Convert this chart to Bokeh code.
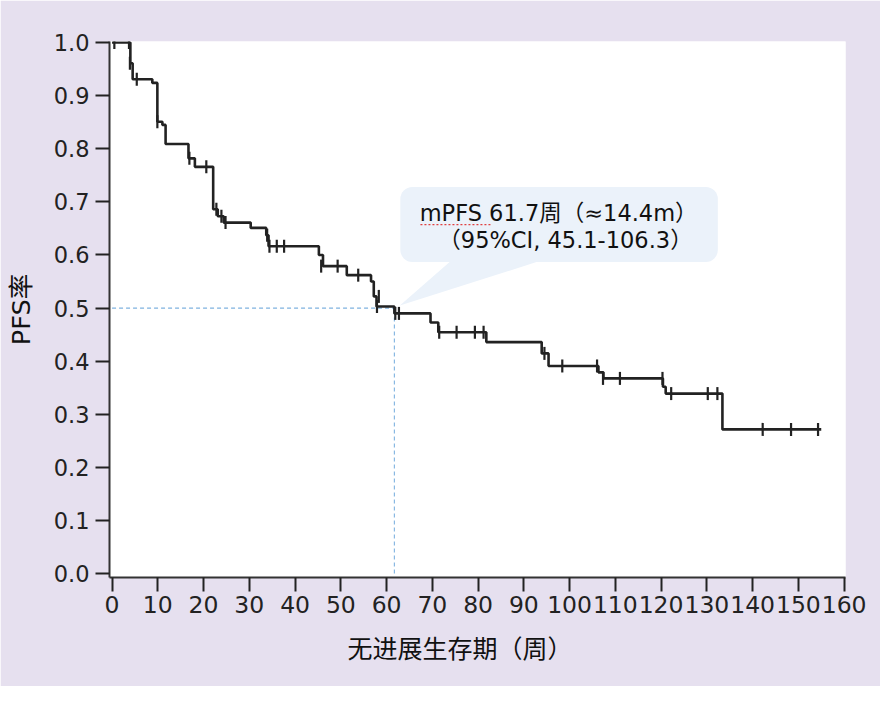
import numpy as np
from bokeh.plotting import figure
from bokeh.models import Label, FixedTicker, Range1d, PrintfTickFormatter, Title
from bokeh.embed import file_html
from bokeh.resources import INLINE

# ---- data ----
event_times = [0.0, 4.0, 4.5, 8.8, 9.9, 11.0, 11.7, 16.7, 18.1, 22.1, 23.1, 24.4, 30.3,
               33.7, 34.2, 45.2, 46.1, 51.3, 56.6, 57.2, 57.8, 61.7, 69.6, 71.3, 81.8,
               93.9, 95.4, 106.3, 107.4, 120.4, 121.0, 133.4, 155.0]
survival = [1.0, 0.961, 0.931, 0.924, 0.851, 0.845, 0.809, 0.782, 0.766, 0.686, 0.673, 0.661, 0.651,
            0.637, 0.6165, 0.600, 0.579, 0.562, 0.550, 0.522, 0.503, 0.490, 0.473, 0.4545, 0.436,
            0.4147, 0.391, 0.379, 0.3676, 0.352, 0.339, 0.2716, 0.2716]
censor_times = [0.5, 3.7, 3.9, 5.4, 9.9, 16.9, 20.6, 22.8, 23.9, 24.8, 33.9, 34.4, 36.0, 37.6,
                45.7, 49.3, 53.8, 58.3, 57.9, 61.9, 62.7, 71.5, 75.3, 79.3, 81.2, 94.5,
                98.4, 106.0, 107.3, 111.0, 120.3, 122.2, 130.2, 132.3, 142.2, 148.4, 154.3]
censor_surv = [1.0, 1.0, 0.961, 0.931, 0.851, 0.782, 0.766, 0.686, 0.673, 0.661, 0.637, 0.6165, 0.6165, 0.6165,
               0.579, 0.579, 0.562, 0.522, 0.503, 0.490, 0.490, 0.4545, 0.4545, 0.4545, 0.4545, 0.4147,
               0.391, 0.391, 0.3676, 0.3676, 0.3676, 0.339, 0.339, 0.339, 0.2716, 0.2716, 0.2716]
median_time = 61.7
median_surv = 0.5
x_ticks = list(range(0, 161, 10))
y_ticks = [round(0.1 * i, 1) for i in range(11)]
x_label = "无进展生存期（周）"
y_label = "PFS率"
callout_line1 = "mPFS 61.7周（≈14.4m）"
callout_line2 = "（95%CI, 45.1-106.3）"

BG = "#E6E0EF"
INK = "#222222"
FONT = "'DejaVu Sans', 'Noto Sans CJK SC', sans-serif"
BOX = "#EBF2FA"

p = figure(width=880, height=686, output_backend="svg", toolbar_location=None,
           x_range=Range1d(-0.56, 160.3), y_range=Range1d(-0.0073, 1.002),
           min_border_left=109, min_border_right=35, min_border_top=41, min_border_bottom=109)
p.background_fill_color = "white"
p.border_fill_color = BG
p.outline_line_color = None
p.xgrid.visible = False
p.ygrid.visible = False

for ax in (p.xaxis[0], p.yaxis[0]):
    ax.axis_line_color = "#333333"
    ax.axis_line_width = 2
    ax.major_tick_line_color = INK
    ax.major_tick_line_width = 2
    ax.major_tick_out = 14
    ax.major_tick_in = 0
    ax.minor_tick_line_color = None
    ax.major_label_text_color = INK
    ax.major_label_text_font = "DejaVu Sans"

p.xaxis.ticker = FixedTicker(ticks=x_ticks)
p.xaxis.major_label_text_font_size = "23.5px"
p.xaxis.major_label_standoff = 4
p.yaxis.ticker = FixedTicker(ticks=y_ticks)
p.yaxis.formatter = PrintfTickFormatter(format="%.1f")
p.yaxis.major_label_text_font_size = "22.5px"
p.yaxis.major_label_standoff = 6
p.yaxis.axis_label = y_label
p.yaxis.axis_label_text_font = FONT
p.yaxis.axis_label_text_font_size = "25.5px"
p.yaxis.axis_label_text_font_style = "normal"
p.yaxis.axis_label_text_color = "#111111"
p.yaxis.axis_label_standoff = 15

p.add_layout(Title(text=x_label, align="left", offset=238, text_font="Noto Sans CJK SC",
                   text_font_size="25px", text_font_style="normal", text_color="#111111",
                   standoff=22), "below")

# callout pointer and box (behind the curve)
p.patch([62.9, 73.9, 93.1], [0.505, 0.5875, 0.5875], fill_color=BOX, line_color=None)
p.quad(left=[63.0], right=[132.4], bottom=[0.587], top=[0.728], fill_color=BOX,
       line_color=None, border_radius=12)

# median guide lines
p.line([0, median_time], [median_surv, median_surv], line_color="#7FB2E0", line_width=1.1, line_dash="4 3")
p.line([median_time, median_time], [0, median_surv], line_color="#7FB2E0", line_width=1.1, line_dash="4 3")

# KM curve
p.step(event_times, survival, mode="after", line_color=INK, line_width=2.6)
p.scatter(censor_times, censor_surv, marker="dash", angle=np.pi / 2, size=13,
          line_color=INK, line_width=2.2)

# callout text
p.add_layout(Label(x=97.6, y=0.679, text=callout_line1, text_align="center",
                   text_baseline="middle", text_font=FONT, text_font_size="22.5px",
                   text_color="#111111"))
p.add_layout(Label(x=99.1, y=0.6275, text=callout_line2, text_align="center",
                   text_baseline="middle", text_font=FONT, text_font_size="22.5px",
                   text_color="#111111"))
p.line([67.4, 82.8], [0.657, 0.657], line_color="#E04040", line_width=1.2, line_dash="2 2")

open("out.html", "w").write(file_html(p, INLINE))
